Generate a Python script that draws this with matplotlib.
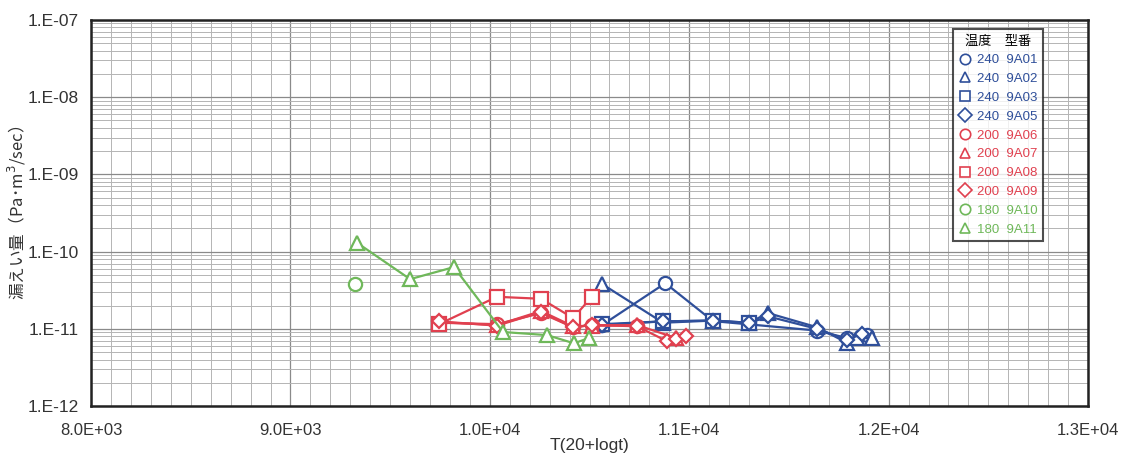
import matplotlib
matplotlib.use("Agg")
import matplotlib.pyplot as plt
from matplotlib.ticker import FixedLocator, NullFormatter, LogLocator
import numpy as np

plt.rcParams['font.family'] = ['Liberation Sans', 'Noto Sans CJK JP', 'DejaVu Sans']

# ---- data ----
x_ticks = [8000, 9000, 10000, 11000, 12000, 13000]
x_tick_labels = ["8.0E+03", "9.0E+03", "1.0E+04", "1.1E+04", "1.2E+04", "1.3E+04"]
y_ticks = [1e-12, 1e-11, 1e-10, 1e-9, 1e-8, 1e-7]
y_tick_labels = ["1.E-12", "1.E-11", "1.E-10", "1.E-09", "1.E-08", "1.E-07"]

temps = ["240", "240", "240", "240", "200", "200", "200", "200", "180", "180"]
names = ["9A01", "9A02", "9A03", "9A05", "9A06", "9A07", "9A08", "9A09", "9A10", "9A11"]
markers = ["o", "^", "s", "D", "o", "^", "s", "D", "o", "^"]

# blue (240)
x_9A01 = [10563, 10880, 11119, 11641, 11791, 11892]
y_9A01 = [1.12e-11, 3.9e-11, 1.26e-11, 0.95e-11, 7.6e-12, 8.4e-12]
x_9A02 = [10563, 10869, 11119, 11300, 11395, 11641, 11791, 11841, 11917]
y_9A02 = [3.8e-11, 1.2e-11, 1.28e-11, 1.2e-11, 1.6e-11, 1.05e-11, 6.6e-12, 7.6e-12, 7.6e-12]
x_9A03 = [10563, 10869, 11119, 11300]
y_9A03 = [1.15e-11, 1.25e-11, 1.28e-11, 1.2e-11]
x_9A05 = [10563, 10869, 11119, 11300, 11395, 11641, 11791, 11867]
y_9A05 = [1.12e-11, 1.25e-11, 1.28e-11, 1.18e-11, 1.45e-11, 1.0e-11, 7.2e-12, 8.6e-12]
# red (200)
x_9A06 = [9745, 10036, 10257, 10417, 10512, 10738]
y_9A06 = [1.2e-11, 1.15e-11, 1.6e-11, 1.05e-11, 1.12e-11, 1.1e-11]
x_9A07 = [9745, 10036, 10257, 10417, 10512, 10738, 10934]
y_9A07 = [1.22e-11, 1.12e-11, 1.7e-11, 1.08e-11, 1.1e-11, 1.12e-11, 7.6e-12]
x_9A08 = [9745, 10036, 10257, 10417, 10512]
y_9A08 = [1.15e-11, 2.6e-11, 2.45e-11, 1.38e-11, 2.6e-11]
x_9A09 = [9745, 10036, 10257, 10417, 10512, 10738, 10889, 10934, 10984]
y_9A09 = [1.25e-11, 1.1e-11, 1.65e-11, 1.05e-11, 1.12e-11, 1.08e-11, 6.9e-12, 7.4e-12, 8.0e-12]
# green (180)
x_9A10 = [9324]
y_9A10 = [3.8e-11]
x_9A11 = [9334, 9600, 9820, 10066, 10287, 10422, 10497]
y_9A11 = [1.3e-10, 4.4e-11, 6.3e-11, 9.1e-12, 8.3e-12, 6.5e-12, 7.6e-12]

series_x = [x_9A01, x_9A02, x_9A03, x_9A05, x_9A06, x_9A07, x_9A08, x_9A09, x_9A10, x_9A11]
series_y = [y_9A01, y_9A02, y_9A03, y_9A05, y_9A06, y_9A07, y_9A08, y_9A09, y_9A10, y_9A11]

color_map = {"240": "#2f4f9a", "200": "#e0404f", "180": "#6fb85a"}

fig = plt.figure(figsize=(11.24, 4.62), dpi=100)
ax = fig.add_axes([0.081, 0.121, 0.887, 0.836])
ax.set_yscale("log")
ax.set_xlim(8000, 13000)
ax.set_ylim(1e-12, 1e-7)

# grid
ax.xaxis.set_minor_locator(FixedLocator(np.arange(8000, 13001, 100)))
ax.yaxis.set_minor_locator(LogLocator(base=10, subs=np.arange(2, 10), numticks=20))
ax.yaxis.set_minor_formatter(NullFormatter())
ax.grid(which="minor", color="#b4b4b4", lw=0.7)
ax.grid(which="major", color="#8a8a8a", lw=0.9)
ax.tick_params(which="both", length=0)
ax.set_axisbelow(True)

ax.set_xticks(x_ticks)
ax.set_xticklabels(x_tick_labels, fontsize=12, color="#333333")
ax.set_yticks(y_ticks)
ax.set_yticklabels(y_tick_labels, fontsize=12.5, color="#333333")
ax.tick_params(axis="x", pad=12)
ax.tick_params(axis="y", pad=9)

for sp in ax.spines.values():
    sp.set_linewidth(1.8)
    sp.set_color("#222222")

handles = []
for xs, ys, t, n, m in zip(series_x, series_y, temps, names, markers):
    c = color_map[t]
    ms = 9.5 if m != "D" else 7
    h, = ax.plot(xs, ys, marker=m, color=c, lw=1.6, ms=ms, mfc="white", mew=1.6,
                 label=f"{t}  {n}")
    handles.append(h)

ax.set_xlabel("T(20+logt)", fontsize=12.5, color="#333333", labelpad=0)
ax.set_ylabel("漏えい量（Pa･m$^3$/sec）", fontsize=12, color="#333333",
              family=["Noto Sans CJK JP", "DejaVu Sans"])
ax.yaxis.set_label_coords(-0.063, 0.5)

leg = ax.legend(handles=handles, loc="upper left", bbox_to_anchor=(0.865, 0.976),
                title="温度　型番", title_fontsize=9.5,
                frameon=True, fancybox=False, edgecolor="#222222",
                handlelength=0.9, handletextpad=0.5, labelspacing=0.5,
                borderpad=0.4, borderaxespad=0,
                prop={"family": ["Liberation Sans", "Noto Sans CJK JP"], "size": 9.5})
leg.get_frame().set_linewidth(1.5)
leg.get_title().set_family(["Noto Sans CJK JP", "DejaVu Sans"])
leg.get_title().set_ha("right")
for h, txt in zip(handles, leg.get_texts()):
    txt.set_color(h.get_color())
for lh in leg.legend_handles:
    lh.set_linestyle("none")
    lh.set_markersize(7.5)
    lh.set_markeredgewidth(1.2)

fig.savefig("out.png", dpi=100)
